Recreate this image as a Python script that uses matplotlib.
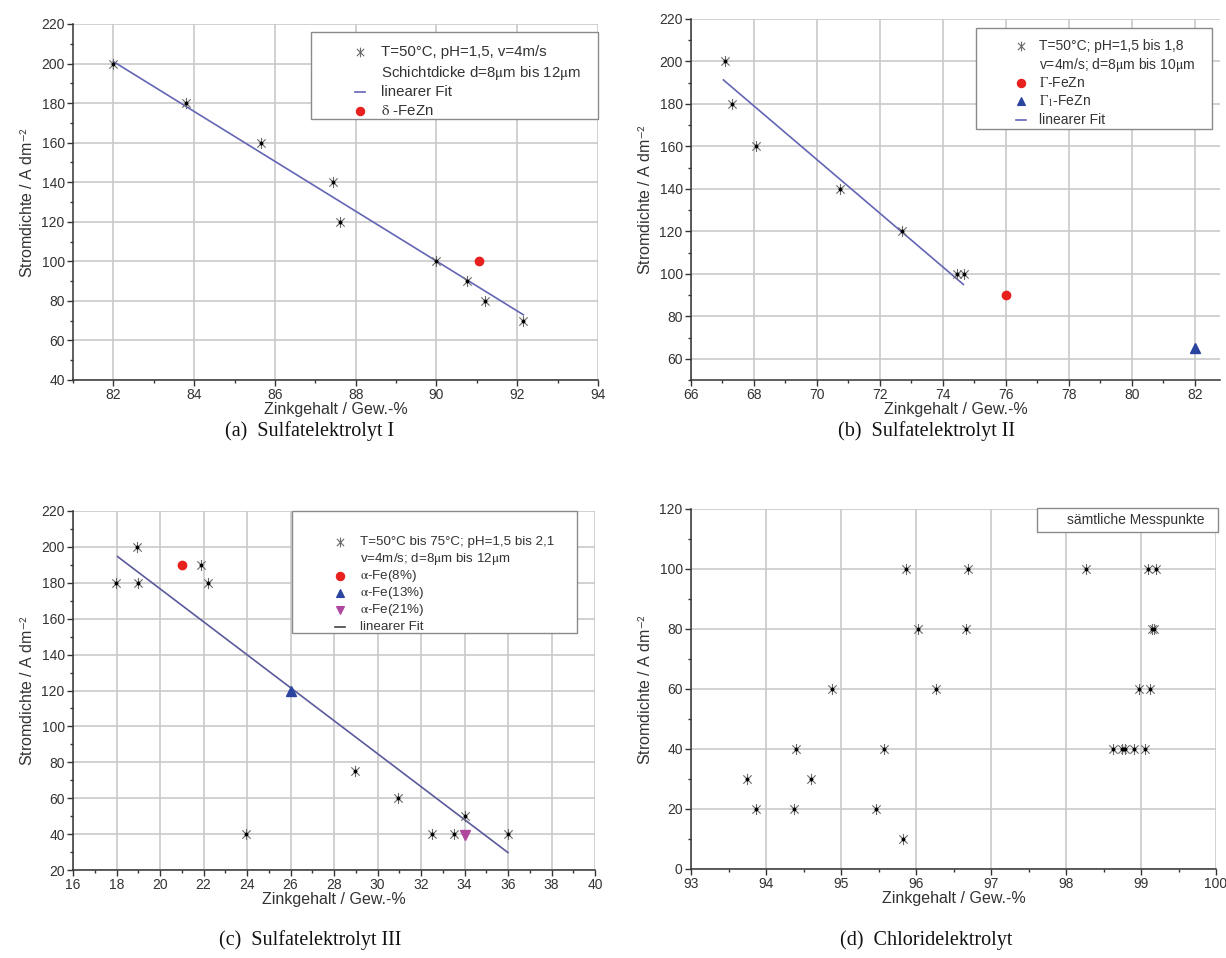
import matplotlib.pyplot as plt
from matplotlib.path import Path
from matplotlib.lines import Line2D
from matplotlib.patches import Rectangle
from matplotlib.ticker import MultipleLocator

# (a) Sulfatelektrolyt I
a_zn = [82.0, 83.8, 85.65, 87.45, 87.6, 90.0, 90.75, 91.2, 92.15]
a_j = [200, 180, 160, 140, 120, 100, 90, 80, 70]
a_delta_zn = [91.05]
a_delta_j = [100]
a_fit_zn = [82.0, 92.15]
a_fit_j = [201, 73]

# (b) Sulfatelektrolyt II
b_zn = [67.08, 67.3, 68.05, 70.73, 72.7, 74.46, 74.67]
b_j = [200, 180, 160, 140, 120, 100, 100]
b_gamma_zn = [76.0]
b_gamma_j = [90]
b_gamma1_zn = [82.0]
b_gamma1_j = [65]
b_fit_zn = [67.03, 74.65]
b_fit_j = [191.3, 95]

# (c) Sulfatelektrolyt III
c_zn = [18.92, 17.97, 18.99, 21.9, 22.2, 28.95, 30.95, 23.95, 32.5, 33.5, 34.0, 36.0]
c_j = [200, 180, 180, 190, 180, 75, 60, 40, 40, 40, 50, 40]
c_fe8_zn = [21.0]
c_fe8_j = [190]
c_fe13_zn = [26.0]
c_fe13_j = [120]
c_fe21_zn = [34.0]
c_fe21_j = [39.5]
c_fit_zn = [18.05, 36.0]
c_fit_j = [194.6, 29.7]

# (d) Chloridelektrolyt
d_zn = [95.86, 96.02, 94.88, 96.26, 94.40, 95.57, 93.75, 94.60, 93.86, 94.37, 95.46, 95.83,
        96.69, 98.27, 99.09, 99.20, 96.67, 99.14, 99.17, 98.97, 99.12,
        98.62, 98.75, 98.78, 98.90, 99.05]
d_j = [100, 80, 60, 60, 40, 40, 30, 30, 20, 20, 20, 10,
       100, 100, 100, 100, 80, 80, 80, 60, 60,
       40, 40, 40, 40, 40]

captions = ["(a)  Sulfatelektrolyt I", "(b)  Sulfatelektrolyt II",
            "(c)  Sulfatelektrolyt III", "(d)  Chloridelektrolyt"]

plt.rcParams['font.family'] = ['Liberation Sans', 'DejaVu Sans']
plt.rcParams['mathtext.fontset'] = 'stix'

W, H = 1226, 958
fig = plt.figure(figsize=(W / 100, H / 100), dpi=100)

star = Path([(0, -1), (0, 1), (-0.75, -0.75), (0.75, 0.75), (-0.75, 0.75), (0.75, -0.75)],
            [Path.MOVETO, Path.LINETO, Path.MOVETO, Path.LINETO, Path.MOVETO, Path.LINETO])
FIT = '#6465b5'
GRID = '#c9c9c9'
TXT = '#333333'
STAR = '#6a6a6a'
RED = '#e8201e'
BLUE = '#2b44a0'
MAG = '#b0479e'


def px_axes(l, r, t, b):
    return fig.add_axes([l / W, 1 - b / H, (r - l) / W, (b - t) / H])


def style(ax, xlim, ylim, xmaj, xmin, ymaj, ymin):
    ax.set_xlim(*xlim)
    ax.set_ylim(*ylim)
    ax.xaxis.set_major_locator(MultipleLocator(xmaj))
    ax.xaxis.set_minor_locator(MultipleLocator(xmin))
    ax.yaxis.set_major_locator(MultipleLocator(ymaj))
    ax.yaxis.set_minor_locator(MultipleLocator(ymin))
    for s in ['top', 'right']:
        ax.spines[s].set_visible(False)
    for s in ['left', 'bottom']:
        ax.spines[s].set_color(TXT)
        ax.spines[s].set_linewidth(1.1)
    ax.grid(True, which='major', color=GRID, lw=1.2)
    ax.set_axisbelow(True)
    ax.tick_params(which='major', length=4, width=1, pad=2, color=TXT, labelsize=10, labelcolor=TXT)
    ax.tick_params(which='minor', length=2.5, width=1, color=TXT)
    ax.set_xlabel('Zinkgehalt / Gew.-%', fontsize=11.5, color=TXT, labelpad=0)
    ax.set_ylabel('Stromdichte / A dm$^{\\mathsf{-2}}$', fontsize=11.5, color=TXT, labelpad=4)


def stars(ax, x, y):
    ax.plot(x, y, ls='none', marker=star, ms=8, mec=STAR, mew=0.8, zorder=3)
    ax.plot(x, y, ls='none', marker='o', ms=1.8, color='black', zorder=4)


def legend(box, rows, mx, tx, fs):
    # Origin-style legend box drawn in figure pixels
    l, t, r, b = box
    fig.add_artist(Rectangle((l / W, 1 - b / H), (r - l) / W, (b - t) / H, transform=fig.transFigure,
                             fc='white', ec='#8a8a8a', lw=1.0, zorder=5))
    for kind, color, label, y in rows:
        yy = 1 - y / H
        if kind == 'line':
            fig.add_artist(Line2D([(mx - 5) / W, (mx + 5) / W], [yy, yy], transform=fig.transFigure,
                                  color=color, lw=1.2, zorder=6))
        elif kind is not None:
            mk = star if kind == 'star' else kind
            fig.add_artist(Line2D([mx / W], [yy], transform=fig.transFigure, ls='none', marker=mk,
                                  ms=7 if kind == 'star' else 6, color=color, mec=color,
                                  mew=0.8, zorder=6))
        fig.text(tx / W, yy, label, ha='left', va='center', fontsize=fs, color=TXT, zorder=7)


# (a)
ax = px_axes(73, 598, 24, 380)
style(ax, (81, 94), (40, 220), 2, 1, 20, 10)
ax.plot(a_fit_zn, a_fit_j, color=FIT, lw=1.2, zorder=2)
stars(ax, a_zn, a_j)
ax.plot(a_delta_zn, a_delta_j, ls='none', marker='o', ms=6, color=RED, zorder=3)
legend((311, 32, 598, 119),
       [('star', STAR, 'T=50°C, pH=1,5, v=4m/s', 52),
        (None, None, 'Schichtdicke d=8$\\mathrm{\\mu}$m bis 12$\\mathrm{\\mu}$m', 73),
        ('line', FIT, 'linearer Fit', 92),
        ('o', RED, '$\\mathrm{\\delta}$ -FeZn', 111)], 360, 381, 10.8)

# (b)
ax = px_axes(691, 1220, 19, 380)
style(ax, (66, 82.8), (50, 220), 2, 1, 20, 10)
ax.plot(b_fit_zn, b_fit_j, color=FIT, lw=1.2, zorder=2)
stars(ax, b_zn, b_j)
ax.plot(b_gamma_zn, b_gamma_j, ls='none', marker='o', ms=6, color=RED, zorder=3)
ax.plot(b_gamma1_zn, b_gamma1_j, ls='none', marker='^', ms=7, color=BLUE, zorder=3)
legend((976, 28, 1212, 129),
       [('star', STAR, 'T=50°C; pH=1,5 bis 1,8', 46),
        (None, None, 'v=4m/s; d=8$\\mathrm{\\mu}$m bis 10$\\mathrm{\\mu}$m', 65),
        ('o', RED, '$\\Gamma$-FeZn', 83),
        ('^', BLUE, '$\\Gamma_1$-FeZn', 101),
        ('line', FIT, 'linearer Fit', 120)], 1021, 1039, 10)

# (c)
ax = px_axes(73, 595, 511, 870)
style(ax, (16, 40), (20, 220), 2, 1, 20, 10)
ax.plot(c_fit_zn, c_fit_j, color='#5a5a9c', lw=1.2, zorder=2)
stars(ax, c_zn, c_j)
ax.plot(c_fe8_zn, c_fe8_j, ls='none', marker='o', ms=6, color=RED, zorder=3)
ax.plot(c_fe13_zn, c_fe13_j, ls='none', marker='^', ms=7, color=BLUE, zorder=3)
ax.plot(c_fe21_zn, c_fe21_j, ls='none', marker='v', ms=7, color=MAG, zorder=3)
legend((292, 511, 577, 633),
       [('star', STAR, 'T=50°C bis 75°C; pH=1,5 bis 2,1', 542),
        (None, None, 'v=4m/s; d=8$\\mathrm{\\mu}$m bis 12$\\mathrm{\\mu}$m', 559),
        ('o', RED, '$\\mathrm{\\alpha}$-Fe(8%)', 576),
        ('^', BLUE, '$\\mathrm{\\alpha}$-Fe(13%)', 593),
        ('v', MAG, '$\\mathrm{\\alpha}$-Fe(21%)', 610),
        ('line', '#444444', 'linearer Fit', 627)], 340, 360, 9.6)

# (d)
ax = px_axes(691, 1216, 509, 869)
style(ax, (93, 100), (0, 120), 1, 0.5, 20, 10)
stars(ax, d_zn, d_j)
legend((1037, 508, 1218, 532), [(None, None, 'sämtliche Messpunkte', 520)], 1050, 1067, 10)

for cap, (cx, cy) in zip(captions, [(310, 431), (926, 431), (310, 940), (926, 940)]):
    fig.text(cx / W, 1 - cy / H, cap, ha='center', va='center', fontsize=14.5,
             family='Liberation Serif', color='#111111')

fig.savefig('out.png', dpi=100)
